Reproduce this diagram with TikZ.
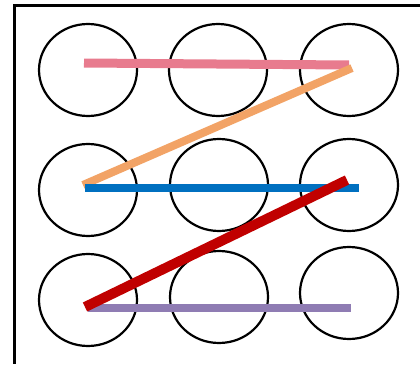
\documentclass[tikz,border=0pt]{standalone}
\usetikzlibrary{shapes.geometric}
\definecolor{gpink}{HTML}{E87B8E}
\definecolor{gorange}{HTML}{F2A366}
\definecolor{gblue}{HTML}{0070C0}
\definecolor{gred}{HTML}{C00000}
\definecolor{gpurple}{HTML}{8F7CB3}
\tikzset{
  ring/.style={draw, ellipse, line width=2.2pt, minimum width=98pt,
    minimum height=92pt, inner sep=0pt},
  bar/.style={line width=9pt, line cap=butt},
}
\begin{document}
\begin{tikzpicture}[x=1pt, y=-1pt]
    \useasboundingbox (0,0) rectangle (420,364);
    \draw[line width=3pt] (420,5.5) -- (14.8,5.5) -- (14.8,364);
    % grid of nine rings
    \node[ring] (a1) at (88,70) {};
    \node[ring] (a2) at (218,70) {};
    \node[ring] (a3) at (349,70) {};
    \node[ring] (b1) at (88,190) {};
    \node[ring] (b2) at (219,185) {};
    \node[ring] (b3) at (349,185) {};
    \node[ring] (c1) at (88,300) {};
    \node[ring] (c2) at (219,297) {};
    \node[ring] (c3) at (349,293) {};
    % stroke path
    \draw[bar, gpink] ([shift={(-4,-7)}]a1.center) -- ([shift={(0,-5)}]a3.center);
    \draw[bar, gorange, line width=8pt] ([shift={(3,-2)}]a3.center) -- ([shift={(-5,-5)}]b1.center);
    \draw[bar, gblue, line width=8pt] ([shift={(-3,-2)}]b1.center) -- ([shift={(10,3)}]b3.center);
    \draw[bar, gpurple, line width=8pt] ([shift={(0,8)}]c1.center) -- ([shift={(2,15)}]c3.center);
    \draw[bar, gred, line width=10pt] ([shift={(-2,-5)}]b3.center) -- ([shift={(-3,7)}]c1.center);
  \end{tikzpicture}
\end{document}
